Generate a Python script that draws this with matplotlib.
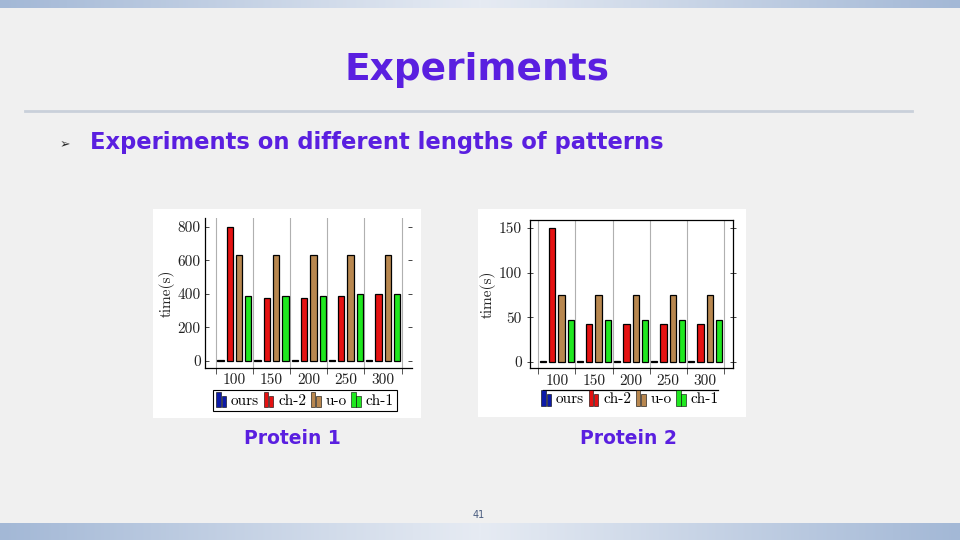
import numpy as np
import matplotlib
matplotlib.use('Agg')
import matplotlib.pyplot as plt
from matplotlib.patches import Rectangle
from matplotlib.colors import LinearSegmentedColormap
from matplotlib.legend_handler import HandlerBase

# data
lengths = ['100', '150', '200', '250', '300']
series = ['ours', 'ch-2', 'u-o', 'ch-1']
colors = ['#0c1aa8', '#e51212', '#b8874f', '#1fe81f']

p1_ours = [4, 4, 4, 4, 4]
p1_ch2 = [800, 377, 377, 389, 399]
p1_uo = [631, 631, 631, 631, 631]
p1_ch1 = [389, 389, 389, 401, 401]
p1_ticks = [0, 200, 400, 600, 800]

p2_ours = [1.5, 1.5, 1.5, 1.5, 1.5]
p2_ch2 = [150, 43, 42.5, 42.5, 42.5]
p2_uo = [75.5, 75.5, 75.5, 75.5, 75.5]
p2_ch1 = [47.5, 47.5, 47.5, 47.5, 47.5]
p2_ticks = [0, 50, 100, 150]

purple = '#5a1fe0'
serif = ['cmr10', 'DejaVu Serif']


class TwoBars(HandlerBase):
    # pgfplots style ybar legend image: two small bars
    def create_artists(self, legend, orig, xd, yd, w, h, fs, trans):
        fc = orig.get_facecolor()
        bw = w * 0.42
        r1 = Rectangle((-xd, -yd - 1), bw, h + 2, fc=fc, ec='black', lw=0.4, transform=trans)
        r2 = Rectangle((-xd + bw * 1.2, -yd - 1), bw, h * 0.7 + 2, fc=fc, ec='black', lw=0.4, transform=trans)
        return [r1, r2]


fig = plt.figure(figsize=(9.6, 5.4), dpi=100)
fig.patch.set_facecolor('#f0f0f0')

# slide decoration
bg = fig.add_axes([0, 0, 1, 1])
bg.axis('off')
bg.set_facecolor('none')

band = LinearSegmentedColormap.from_list('band', ['#e6ebf3', '#a3b8d6'])
grad = np.abs(np.linspace(-1, 1, 400))[None, :]
bg.imshow(grad, cmap=band, extent=(0, 960, 8, 0), aspect='auto', zorder=1)
bg.imshow(grad, cmap=band, extent=(0, 960, 540, 523), aspect='auto', zorder=1)
bg.set_xlim(0, 960)
bg.set_ylim(540, 0)

bg.plot([25, 912], [111, 111], color='#c9d0da', lw=2, zorder=2)

bg.text(477, 70, 'Experiments', color=purple, fontsize=27, fontweight='bold',
        family=['Liberation Sans Narrow', 'DejaVu Sans'], ha='center', va='center')
bg.text(65, 145, '\u27a2', color='#2a2a2a', fontsize=9, ha='center', va='center',
        family=['DejaVu Sans'])
bg.text(90, 143, 'Experiments on different lengths of patterns', color=purple,
        fontsize=16.3, fontweight='bold', ha='left', va='center')
bg.text(292, 438, 'Protein 1', color=purple, fontsize=13.5, fontweight='bold', ha='center', va='center')
bg.text(628, 438, 'Protein 2', color=purple, fontsize=13.5, fontweight='bold', ha='center', va='center')
bg.text(479, 515, '41', color='#4a5d80', fontsize=7, ha='center', va='center')

# white panels behind the charts
bg.add_patch(Rectangle((153, 209), 268, 209, fc='white', ec='none', zorder=2))
bg.add_patch(Rectangle((478, 209), 268, 208, fc='white', ec='none', zorder=2))
bg.plot([543, 718], [390, 390], color='black', lw=0.9, zorder=3)

x = np.arange(len(lengths))
offsets = [-0.375, -0.125, 0.125, 0.375]
bw = 0.17


def draw_chart(ax, vals, ticks, ylim, xlim):
    ax.set_facecolor('white')
    ax.set_axisbelow(True)
    for off, v, c in zip(offsets, vals, colors):
        ax.bar(x + off, v, bw, color=c, edgecolor='black', linewidth=0.9, zorder=3)
    ax.set_xlim(*xlim)
    ax.set_ylim(*ylim)
    ax.set_xticks(x)
    ax.set_xticklabels(lengths, family=serif, fontsize=11, color='#222222')
    ax.set_xticks(np.arange(len(lengths) + 1) - 0.5, minor=True)
    ax.tick_params(axis='x', which='major', length=0, pad=4)
    ax.tick_params(axis='x', which='minor', direction='out', length=4, width=0.7, color='#555555')
    ax.grid(True, axis='x', which='minor', color='#b0b0b0', lw=0.8)
    ax.set_yticks(ticks)
    ax.set_yticklabels([str(t) for t in ticks], family=serif, fontsize=11, color='#222222')
    ax.set_ylabel('time(s)', family=serif, fontsize=11, color='#222222', labelpad=2)
    for s in ax.spines.values():
        s.set_linewidth(0.9)


ax1 = fig.add_axes([205 / 960, 1 - 367.7 / 540, 206.7 / 960, 149.4 / 540])
draw_chart(ax1, [p1_ours, p1_ch2, p1_uo, p1_ch1], p1_ticks, (-42, 851), (-0.79, 4.77))
ax1.spines['top'].set_visible(False)
ax1.spines['right'].set_visible(False)
ax1.tick_params(axis='y', left=True, right=True, direction='in', length=3, width=0.7,
                color='#444444', pad=3)

ax2 = fig.add_axes([530 / 960, 1 - 368.3 / 540, 202.7 / 960, 148.3 / 540])
draw_chart(ax2, [p2_ours, p2_ch2, p2_uo, p2_ch1], p2_ticks, (-7, 159), (-0.725, 4.74))
ax2.tick_params(axis='y', left=True, right=True, direction='inout', length=4, width=0.7,
                color='#444444', pad=4)

handles = [Rectangle((0, 0), 1, 1, fc=c, ec='black') for c in colors]
hmap = {h: TwoBars() for h in handles}
leg1 = fig.legend(handles, series, loc='center', bbox_to_anchor=(305 / 960, 1 - 400.5 / 540),
                  ncol=4, handler_map=hmap, handlelength=0.7, handleheight=0.9,
                  handletextpad=0.25, columnspacing=0.3, borderpad=0.2, borderaxespad=0,
                  fancybox=False, edgecolor='black', framealpha=1,
                  prop={'family': serif, 'size': 11})
leg1.get_frame().set_linewidth(0.8)

fig.legend(handles, series, loc='center', bbox_to_anchor=(630 / 960, 1 - 399 / 540),
           ncol=4, handler_map=hmap, handlelength=0.7, handleheight=0.9,
           handletextpad=0.25, columnspacing=0.3, borderpad=0.2, borderaxespad=0,
           frameon=False, prop={'family': serif, 'size': 11})

fig.savefig('out.png', dpi=100, facecolor=fig.get_facecolor())
